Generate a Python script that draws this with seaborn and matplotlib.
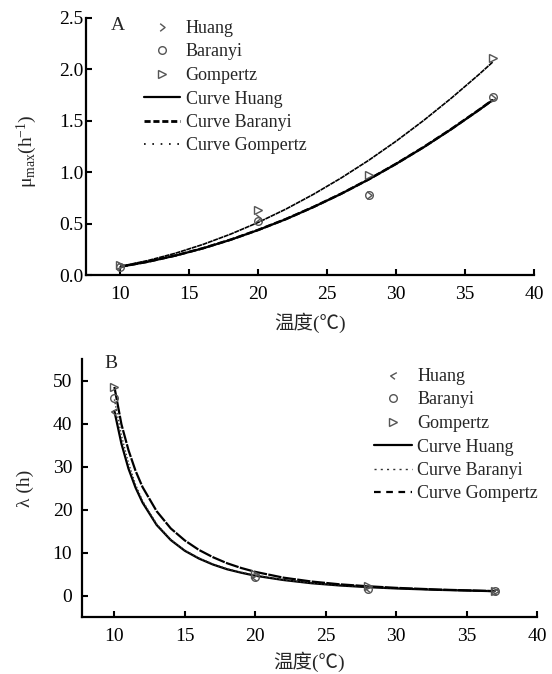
import numpy as np
import pandas as pd
import matplotlib
matplotlib.use("Agg")
import matplotlib.pyplot as plt
import seaborn as sns
from matplotlib.path import Path
from matplotlib.lines import Line2D

# ---------------- data ----------------
temps = [10, 20, 28, 37]

# Panel A: maximum specific growth rate (h^-1)
mu_huang = [0.09, 0.55, 0.78, 1.72]
mu_baranyi = [0.08, 0.53, 0.78, 1.73]
mu_gompertz = [0.10, 0.63, 0.97, 2.11]

curve_t_a = [10, 12, 14, 16, 18, 20, 22, 24, 26, 28, 30, 32, 34, 36, 37]
mu_curve_huang = [0.080, 0.129, 0.189, 0.260, 0.343, 0.438, 0.543, 0.661,
                  0.789, 0.929, 1.081, 1.243, 1.418, 1.604, 1.701]
mu_curve_baranyi = [0.081, 0.130, 0.190, 0.261, 0.344, 0.439, 0.544, 0.662,
                    0.790, 0.930, 1.082, 1.245, 1.420, 1.606, 1.703]
mu_curve_gompertz = [0.084, 0.141, 0.212, 0.298, 0.398, 0.512, 0.641, 0.785,
                     0.943, 1.115, 1.302, 1.504, 1.720, 1.950, 2.071]

# Panel B: lag time (h)
lag_huang = [42.8, 4.4, 1.7, 1.0]
lag_baranyi = [45.9, 4.2, 1.6, 1.1]
lag_gompertz = [48.6, 5.0, 2.1, 1.0]

curve_t_b = [10, 10.5, 11, 11.5, 12, 13, 14, 15, 16, 17, 18, 19, 20,
             22, 24, 26, 28, 30, 33, 37]
lag_curve_huang = [42.9, 35.3, 29.5, 25.1, 21.6, 16.4, 12.9, 10.4, 8.6, 7.2,
                   6.1, 5.3, 4.6, 3.6, 2.85, 2.33, 1.94, 1.64, 1.31, 1.0]
lag_curve_baranyi = [45.6, 37.2, 30.8, 25.8, 22.0, 16.6, 13.0, 10.5, 8.7, 7.3,
                     6.2, 5.4, 4.7, 3.65, 2.9, 2.37, 1.97, 1.66, 1.32, 1.0]
lag_curve_gompertz = [48.5, 39.8, 33.8, 29.0, 25.2, 19.6, 15.6, 12.8, 10.6, 8.9,
                      7.5, 6.4, 5.5, 4.15, 3.25, 2.6, 2.15, 1.78, 1.38, 1.02]

xticks = [10, 15, 20, 25, 30, 35, 40]
yticks_a = [0.0, 0.5, 1.0, 1.5, 2.0, 2.5]
yticks_b = [0, 10, 20, 30, 40, 50]
xlabel = "温度(℃)"

# ---------------- style ----------------
sns.set_theme(style="ticks")
plt.rcParams["font.family"] = ["Liberation Serif", "Noto Sans CJK SC", "DejaVu Sans"]
plt.rcParams["mathtext.fontset"] = "custom"
plt.rcParams["mathtext.rm"] = "Liberation Serif"
plt.rcParams["mathtext.it"] = "Liberation Serif:italic"

W, H = 552, 674
fig = plt.figure(figsize=(W / 100, H / 100), dpi=100)
fig.patch.set_facecolor("white")


def frac_box(left, right, top, bottom):
    return [left / W, 1 - bottom / H, (right - left) / W, (bottom - top) / H]


ax_a = fig.add_axes(frac_box(86, 534, 18, 275))
ax_b = fig.add_axes(frac_box(82, 537, 359, 617))

chev_a = Path([(-0.55, 0.9), (0.6, 0.0), (-0.55, -0.9)])
chev_b = Path([(0.7, 0.6), (-0.6, -0.1), (0.3, -0.8)])

mk_col = "#555555"
mk_kw = dict(linestyle="none", markerfacecolor="none", markeredgecolor=mk_col,
             markeredgewidth=1.0, markersize=5.5)

# ---- Panel A ----
sns.lineplot(x=curve_t_a, y=mu_curve_huang, ax=ax_a, color="black", lw=1.6,
             linestyle="-")
sns.lineplot(x=curve_t_a, y=mu_curve_baranyi, ax=ax_a, color="black", lw=1.8,
             linestyle=(0, (3, 1)))
sns.lineplot(x=curve_t_a, y=mu_curve_gompertz, ax=ax_a, color="black", lw=1.2,
             linestyle=(0, (3, 0.4)))
sns.lineplot(x=temps, y=mu_huang, ax=ax_a, marker=chev_a, **mk_kw)
sns.lineplot(x=temps, y=mu_baranyi, ax=ax_a, marker="o", **mk_kw)
sns.lineplot(x=temps, y=mu_gompertz, ax=ax_a, marker=">", **mk_kw)

# ---- Panel B ----
sns.lineplot(x=curve_t_b, y=lag_curve_huang, ax=ax_b, color="black", lw=1.6,
             linestyle="-")
sns.lineplot(x=curve_t_b, y=lag_curve_baranyi, ax=ax_b, color="#333333", lw=1.0,
             linestyle=(0, (1, 1.5)))
sns.lineplot(x=curve_t_b, y=lag_curve_gompertz, ax=ax_b, color="black", lw=1.6,
             linestyle=(0, (6, 0.6)))
sns.lineplot(x=temps, y=lag_huang, ax=ax_b, marker=chev_b, **mk_kw)
sns.lineplot(x=temps, y=lag_baranyi, ax=ax_b, marker="o", **mk_kw)
sns.lineplot(x=temps, y=lag_gompertz, ax=ax_b, marker=">", **mk_kw)

tick_fs = 14
for ax in (ax_a, ax_b):
    sns.despine(ax=ax)
    for s in ("left", "bottom"):
        ax.spines[s].set_linewidth(1.6)
        ax.spines[s].set_color("black")
    ax.set_xticks(xticks)
    ax.tick_params(direction="in", length=4, width=1.5, colors="black",
                   labelsize=tick_fs)
    ax.tick_params(axis="x", pad=8)
    ax.set_facecolor("white")
    ax.grid(False)

ax_a.set_xlim(7.5, 40)
ax_a.set_ylim(0, 2.5)
ax_a.set_yticks(yticks_a)
ax_a.set_yticklabels([f"{v:.1f}" for v in yticks_a])
ax_a.tick_params(axis="y", pad=2)

ax_b.set_xlim(7.7, 40)
ax_b.set_ylim(-5, 55)
ax_b.set_yticks(yticks_b)
ax_b.tick_params(axis="y", pad=7)

ax_a.set_xlabel(xlabel, fontsize=14)
ax_b.set_xlabel(xlabel, fontsize=14)
ax_a.xaxis.set_label_coords(0.5, -0.145)
ax_b.xaxis.set_label_coords(0.5, -0.135)
ax_a.set_ylabel(r"μ$_{\mathrm{max}}$(h$^{-1}$)", fontsize=14)
ax_b.set_ylabel("λ (h)", fontsize=14)
ax_a.yaxis.set_label_coords(-0.104, 0.48)
ax_b.yaxis.set_label_coords(-0.105, 0.5)

fig.text(117.5 / W, 1 - 25 / H, "A", fontsize=14, ha="center", va="center")
fig.text(110.5 / W, 1 - 364 / H, "B", fontsize=14, ha="center", va="center")

# ---- legends ----
def mk_handle(marker):
    return Line2D([], [], marker=marker, **mk_kw)

handles_a = [
    mk_handle(chev_a), mk_handle("o"), mk_handle(">"),
    Line2D([], [], color="black", lw=1.6, linestyle="-"),
    Line2D([], [], color="black", lw=2.0, linestyle=(0, (2.2, 1.0))),
    Line2D([], [], color="black", lw=1.2, linestyle=(0, (1, 4))),
]
labels = ["Huang", "Baranyi", "Gompertz", "Curve Huang", "Curve Baranyi",
          "Curve Gompertz"]
leg_kw = dict(frameon=False, fontsize=13, borderpad=0, borderaxespad=0,
              handlelength=2.0, handletextpad=0.3, labelspacing=0.36,
              bbox_transform=fig.transFigure, loc="upper left")
ax_a.legend(handles_a, labels, bbox_to_anchor=(144 / W, 1 - 20 / H), **leg_kw)

handles_b = [
    mk_handle(chev_b), mk_handle("o"), mk_handle(">"),
    Line2D([], [], color="black", lw=1.6, linestyle="-"),
    Line2D([], [], color="#333333", lw=1.0, linestyle=(0, (1.5, 3))),
    Line2D([], [], color="black", lw=1.6, linestyle=(0, (3, 2.5))),
]
leg_kw_b = dict(leg_kw)
leg_kw_b["handlelength"] = 2.1
ax_b.legend(handles_b, labels, bbox_to_anchor=(374 / W, 1 - 368 / H), **leg_kw_b)

fig.savefig("out.png", dpi=100, facecolor="white")
